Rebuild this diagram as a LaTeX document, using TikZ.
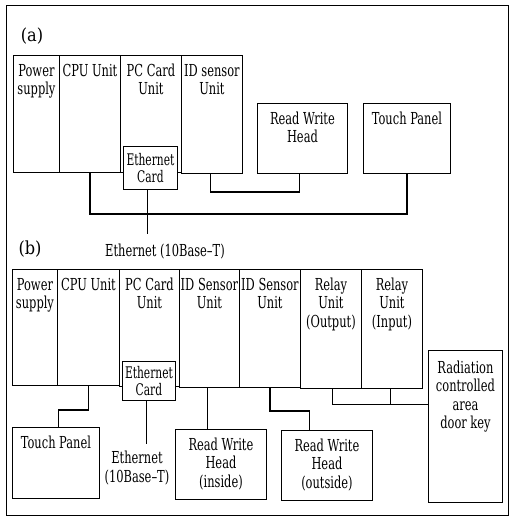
\documentclass[tikz,border=0pt]{standalone}
\usepackage{fontspec}
\setmainfont{DejaVu Serif Condensed}
\begin{document}
\begin{tikzpicture}[x=1pt,y=-1pt,
  box/.style={draw, line width=0.9pt, fill=white, inner sep=0pt, anchor=north west},
  txt/.style={align=center, font=\fontsize{16.5}{18.2}\selectfont, inner sep=0pt, xscale=0.77, transform shape},
  cardtxt/.style={align=center, font=\fontsize{16}{16.5}\selectfont, inner sep=0pt, xscale=0.74, transform shape},
  lbl/.style={font=\fontsize{18}{20}\selectfont, inner sep=0pt},
  wire/.style={line width=1.9pt},
  frame/.style={line width=1pt}]
\useasboundingbox (0,0) rectangle (510,517);
\draw[frame] (6,5) rectangle (508,515);

% ---------- (a) ----------
\node[lbl] (la) at (32,36) {(a)};
\node[box, minimum width=46pt, minimum height=117pt] (aps) at (13,55) {};
\node[box, minimum width=61pt, minimum height=117pt] (acpu) at (59,55) {};
\node[box, minimum width=61pt, minimum height=117pt] (apc) at (120,55) {};
\node[box, minimum width=61pt, minimum height=118pt] (aid) at (181,55) {};
\node[box, minimum width=54pt, minimum height=43pt] (aeth) at (123,146) {};
\node[box, minimum width=90pt, minimum height=70pt] (arw) at (257,103) {};
\node[box, minimum width=87pt, minimum height=70pt] (atp) at (363,103) {};

\node[txt, anchor=north] (tps) at ([yshift=-9pt]aps.north) {Power\\supply};
\node[txt, anchor=north] (tcpu) at ([yshift=-9pt]acpu.north) {CPU Unit};
\node[txt, anchor=north] (tpc) at ([yshift=-9pt]apc.north) {PC Card\\Unit};
\node[txt, anchor=north] (tid) at ([yshift=-9pt]aid.north) {ID sensor\\Unit};
\node[cardtxt] (teth) at (aeth.center) {Ethernet\\Card};
\node[txt, anchor=north] (trw) at ([yshift=-9pt]arw.north) {Read Write\\Head};
\node[txt, anchor=north] (ttp) at ([yshift=-9pt]atp.north) {Touch Panel};

\draw[wire] (acpu.south) -- ++(0,41) -| (atp.south);
\draw[wire] ([xshift=-3pt]aeth.south) -- ++(0,44) coordinate (aend);
\draw[wire] ([xshift=-1.5pt]aid.south) -- ++(0,18) -| ([xshift=-3pt]arw.south);
\node[txt] (aethl) at (165,252) {Ethernet (10Base--T)};

% ---------- (b) ----------
\node[lbl] (lb) at (30,249) {(b)};
\node[box, minimum width=45pt, minimum height=116pt] (bps) at (12,269) {};
\node[box, minimum width=62pt, minimum height=116pt] (bcpu) at (57,269) {};
\node[box, minimum width=60pt, minimum height=117pt] (bpc) at (119,269) {};
\node[box, minimum width=60pt, minimum height=118pt] (bid1) at (179,269) {};
\node[box, minimum width=61pt, minimum height=118pt] (bid2) at (239,269) {};
\node[box, minimum width=61pt, minimum height=119pt] (bro) at (300,269) {};
\node[box, minimum width=61pt, minimum height=119pt] (bri) at (361,269) {};
\node[box, minimum width=53pt, minimum height=39pt] (beth) at (122,361) {};
\node[box, minimum width=74pt, minimum height=152pt] (brad) at (428,350) {};
\node[box, minimum width=87pt, minimum height=71pt] (btp) at (12,427) {};
\node[box, minimum width=91pt, minimum height=70pt] (brw1) at (175,429) {};
\node[box, minimum width=91pt, minimum height=70pt] (brw2) at (281,430) {};

\node[txt, anchor=north] (ubps) at ([yshift=-9pt]bps.north) {Power\\supply};
\node[txt, anchor=north] (ubcpu) at ([yshift=-9pt]bcpu.north) {CPU Unit};
\node[txt, anchor=north] (ubpc) at ([yshift=-9pt]bpc.north) {PC Card\\Unit};
\node[txt, anchor=north] (ubid1) at ([yshift=-9pt]bid1.north) {ID Sensor\\Unit};
\node[txt, anchor=north] (ubid2) at ([yshift=-9pt]bid2.north) {ID Sensor\\Unit};
\node[txt, anchor=north] (ubro) at ([yshift=-9pt]bro.north) {Relay\\Unit\\(Output)};
\node[txt, anchor=north] (ubri) at ([yshift=-9pt]bri.north) {Relay\\Unit\\(Input)};
\node[cardtxt] (ubeth) at (beth.center) {Ethernet\\Card};
\node[txt, anchor=north] (ubrad) at ([yshift=-11pt]brad.north) {Radiation\\controlled\\area\\door key};
\node[txt, anchor=north] (ubtp) at ([yshift=-9pt]btp.north) {Touch Panel};
\node[txt, anchor=north] (ubrw1) at ([yshift=-9pt]brw1.north) {Read Write\\Head\\(inside)};
\node[txt, anchor=north] (ubrw2) at ([yshift=-9pt]brw2.north) {Read Write\\Head\\(outside)};
\node[txt] (bethl) at (137,468) {Ethernet\\(10Base--T)};

\draw[wire] (bcpu.south) -- ++(0,24) -| ([xshift=2.5pt]btp.north);
\draw[wire] ([xshift=-2.5pt]beth.south) -- ++(0,43) coordinate (bend);
\draw[wire] ([xshift=-2pt]bid1.south) -- ([xshift=-2pt]bid1.south |- brw1.north);
\draw[wire] (bid2.south) -- ++(0,23) -| ([xshift=-17.5pt]brw2.north);
\draw[wire] ([xshift=1.5pt]bro.south) |- ([yshift=22pt]brad.west);
\draw[wire] ([xshift=-1.5pt]bri.south) -- ++(0,16);
\end{tikzpicture}
\end{document}
